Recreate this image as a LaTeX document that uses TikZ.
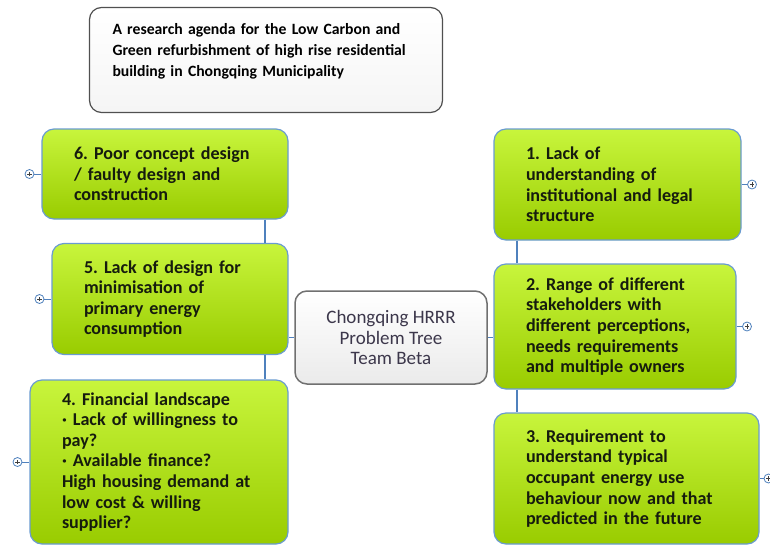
\documentclass[tikz,border=0pt]{standalone}
\usepackage{fontspec}
\setmainfont{Carlito}
\usepackage{tikz}
\usetikzlibrary{positioning}
\frenchspacing
\definecolor{leafborder}{RGB}{106,155,209}
\definecolor{linkblue}{RGB}{79,129,189}
\definecolor{leaftop}{RGB}{200,245,60}
\definecolor{leafmid}{RGB}{162,210,0}
\definecolor{leafbot}{RGB}{153,204,0}
\definecolor{leaftext}{RGB}{22,28,14}
\definecolor{rootborder}{RGB}{112,112,112}
\definecolor{roottext}{RGB}{60,55,75}
\definecolor{titleborder}{RGB}{80,80,80}
\tikzset{
    cause/.style={rectangle, rounded corners=12pt, draw=leafborder, line width=1.2pt,
    	top color=leaftop, middle color=leafmid, bottom color=leafbot,
    	text=leaftext, align=left, inner xsep=32pt,
    	font=\fontsize{18.1}{20.6}\selectfont\bfseries}
}
\tikzset{
    root/.style={rectangle, rounded corners=12pt, draw=rootborder, line width=1.5pt,
    	top color=white, bottom color=black!8, text=roottext, align=center,
    	minimum width=192pt, minimum height=93pt,
    	font=\fontsize{19}{20.5}\selectfont}
}
\tikzset{
    agenda/.style={rectangle, rounded corners=12pt, draw=titleborder, line width=1.2pt,
    	top color=white, bottom color=black!4, text=black, align=left,
    	inner xsep=23pt, font=\fontsize{15.7}{21}\selectfont\bfseries}
}
\tikzset{
    expander/.style={circle, draw=linkblue, fill=white, line width=0.8pt,
    	minimum size=9pt, inner sep=0pt,
    	path picture={\draw[line width=0.6pt, black!75]
    		([xshift=-2.2pt]path picture bounding box.center) --
    		([xshift=2.2pt]path picture bounding box.center)
    		([yshift=-2.2pt]path picture bounding box.center) --
    		([yshift=2.2pt]path picture bounding box.center);}}
}
\tikzset{
    link/.style={draw=linkblue, line width=1.3pt},
    every edge/.append style={draw=linkblue, line width=1pt}
}

\begin{document}
\begin{tikzpicture}[x=1pt, y=-1pt]
	\useasboundingbox (0,0) rectangle (770,544);

	\node (title) [agenda, text width=307pt, minimum height=105pt] at (266, 60)
		{A research agenda for the Low Carbon and\\ Green refurbishment of high rise residential\\ building in Chongqing Municipality\\ \mbox{}};

	\node (tree) [root] at (391, 337.5) {Chongqing HRRR\\ Problem Tree\\ Team Beta};

	\node (c6) [cause, text width=182pt, minimum height=90pt] at (165, 174)
		{6. Poor concept design\\ / faulty design and\\ construction};
	\node (c5) [cause, text width=172pt, minimum height=111pt] at (170, 299)
		{5. Lack of design for\\ minimisation of\\ primary energy\\ consumption};
	\node (c4) [cause, text width=194pt, minimum height=164pt] at (159, 462)
		{4. Financial landscape\\ · Lack of willingness to\\ pay?\\ · Available finance?\\ High housing demand at\\ low cost \& willing\\ supplier?};
	\node (c1) [cause, text width=183pt, minimum height=111pt] at (617.5, 184.5)
		{1. Lack of\\ understanding of\\ institutional and legal\\ structure};
	\node (c2) [cause, text width=178pt, minimum height=125pt] at (615, 326.5)
		{2. Range of different\\ stakeholders with\\ different perceptions,\\ needs requirements\\ and multiple owners};
	\node (c3) [cause, text width=201pt, minimum height=131pt] at (626.5, 478.5)
		{3. Requirement to\\ understand typical\\ occupant energy use\\ behaviour now and that\\ predicted in the future};

	\node (x6) [expander, left=7pt of c6] {};
	\node (x5) [expander, left=7pt of c5] {};
	\node (x4) [expander, left=7pt of c4] {};
	\node (x1) [expander, right=5.5pt of c1] {};
	\node (x2) [expander, right=5.5pt of c2] {};
	\node (x3) [expander, right=4pt of c3] {};

	\coordinate (lt) at (265, 337);
	\coordinate (rt) at (517, 337);

	\draw[link] (lt |- c6.south) -- (lt |- c5.north);
	\draw[link] (lt |- c5.south) -- (lt |- c4.north);
	\draw[link] (tree.west) -- (tree.west -| c5.east);
	\draw[link] (rt |- c1.south) -- (rt |- c2.north);
	\draw[link] (rt |- c2.south) -- (rt |- c3.north);
	\draw[link] (tree.east) -- (tree.east -| c2.west);

	\draw (x6) edge (c6); \draw (x5) edge (c5);
	\draw (x4) edge (c4); \draw (x1) edge (c1);
	\draw (x2) edge (c2); \draw (x3) edge (c3);
\end{tikzpicture}
\end{document}
